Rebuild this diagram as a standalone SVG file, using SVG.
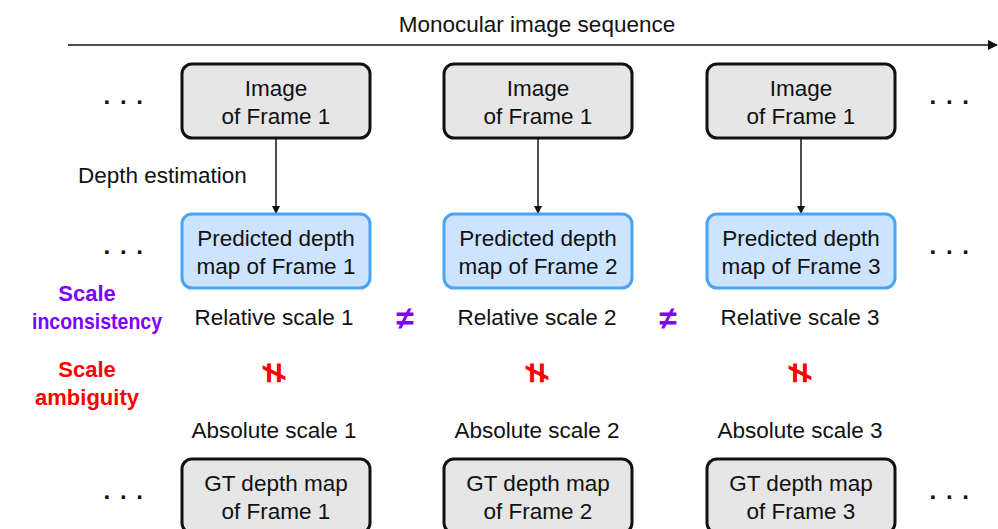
<svg xmlns="http://www.w3.org/2000/svg" width="998" height="529" viewBox="0 0 998 529">
  <style>
    text { font-family: "Liberation Sans", Arial, sans-serif; fill: #111; }
    .lbl { font-size: 22.5px; text-anchor: middle; }
    .dots { font-size: 24px; font-weight: bold; text-anchor: middle; letter-spacing: 1.5px; }
    .img { fill: #e6e6e6; stroke: #111; stroke-width: 3; }
    .pred { fill: #cce4ff; stroke: #4aa3f5; stroke-width: 3; }
    .edge { stroke: #111; stroke-width: 1.5; fill: none; }
    .incons { fill: #8000ff; font-weight: bold; }
    .ambig { fill: #ff0000; font-weight: bold; }
    .side { font-size: 22px; }
  </style>
  <defs>
    <marker id="arrow" markerWidth="8" markerHeight="8" refX="7" refY="4" orient="auto" markerUnits="userSpaceOnUse">
      <path d="M0,0 L8,4 L0,8 Z" fill="#111"/>
    </marker>
    <marker id="arrowBig" markerWidth="10" markerHeight="10" refX="9" refY="5" orient="auto" markerUnits="userSpaceOnUse">
      <path d="M0,0 L10,5 L0,10 Z" fill="#111"/>
    </marker>
  </defs>
  <rect width="998" height="529" fill="#ffffff"/>

  <!-- sequence axis -->
  <g id="sequence">
    <text class="lbl" x="537" y="32">Monocular image sequence</text>
  </g>

  <!-- connectors -->
  <g id="connectors">
    <line class="edge" x1="68" y1="45" x2="997" y2="45" marker-end="url(#arrowBig)"/>
    <line class="edge" x1="276" y1="139" x2="276" y2="213" marker-end="url(#arrow)"/>
    <line class="edge" x1="538" y1="139" x2="538" y2="213" marker-end="url(#arrow)"/>
    <line class="edge" x1="801" y1="139" x2="801" y2="213" marker-end="url(#arrow)"/>
  </g>

  <text x="78" y="183" style="font-size:22.5px">Depth estimation</text>

  <!-- ellipses -->
  <g id="ellipses">
    <text class="dots" x="124" y="104">. . .</text>
    <text class="dots" x="124" y="254">. . .</text>
    <text class="dots" x="124" y="499">. . .</text>
    <text class="dots" x="950" y="104">. . .</text>
    <text class="dots" x="950" y="254">. . .</text>
    <text class="dots" x="950" y="499">. . .</text>
  </g>

  <!-- frame images -->
  <g id="image1"><rect class="img" x="182" y="64" width="188" height="74" rx="10"/>
    <text class="lbl" x="276" y="96">Image</text><text class="lbl" x="276" y="124">of Frame 1</text></g>
  <g id="image2"><rect class="img" x="444" y="64" width="188" height="74" rx="10"/>
    <text class="lbl" x="538" y="96">Image</text><text class="lbl" x="538" y="124">of Frame 1</text></g>
  <g id="image3"><rect class="img" x="707" y="64" width="188" height="74" rx="10"/>
    <text class="lbl" x="801" y="96">Image</text><text class="lbl" x="801" y="124">of Frame 1</text></g>

  <!-- predicted depth maps -->
  <g id="pred1"><rect class="pred" x="182" y="214" width="188" height="74" rx="10"/>
    <text class="lbl" x="276" y="246">Predicted depth</text><text class="lbl" x="276" y="274">map of Frame 1</text></g>
  <g id="pred2"><rect class="pred" x="444" y="214" width="188" height="74" rx="10"/>
    <text class="lbl" x="538" y="246">Predicted depth</text><text class="lbl" x="538" y="274">map of Frame 2</text></g>
  <g id="pred3"><rect class="pred" x="707" y="214" width="188" height="74" rx="10"/>
    <text class="lbl" x="801" y="246">Predicted depth</text><text class="lbl" x="801" y="274">map of Frame 3</text></g>

  <!-- scale labels -->
  <g id="scaleLabels">
    <text class="lbl incons side" x="87" y="301">Scale</text>
    <text class="lbl incons side" x="97" y="329" textLength="130" lengthAdjust="spacingAndGlyphs">inconsistency</text>
    <text class="lbl ambig side" x="87" y="377">Scale</text>
    <text class="lbl ambig side" x="87" y="405">ambiguity</text>
  </g>

  <g id="relative">
    <text class="lbl" x="274" y="325">Relative scale 1</text>
    <text class="lbl" x="537" y="325">Relative scale 2</text>
    <text class="lbl" x="800" y="325">Relative scale 3</text>
    <text class="lbl incons" x="405" y="329" style="font-size:32px">≠</text>
    <text class="lbl incons" x="668" y="329" style="font-size:32px">≠</text>
  </g>

  <!-- rotated not-equal marks -->
  <g id="ambiguityMarks">
    <text class="lbl ambig" style="font-size:36px" transform="translate(274,373) rotate(90)" y="12">≠</text>
    <text class="lbl ambig" style="font-size:36px" transform="translate(537,373) rotate(90)" y="12">≠</text>
    <text class="lbl ambig" style="font-size:36px" transform="translate(800,373) rotate(90)" y="12">≠</text>
  </g>

  <g id="absolute">
    <text class="lbl" x="274" y="438">Absolute scale 1</text>
    <text class="lbl" x="537" y="438">Absolute scale 2</text>
    <text class="lbl" x="800" y="438">Absolute scale 3</text>
  </g>

  <!-- ground truth depth maps -->
  <g id="gt1"><rect class="img" x="182" y="459" width="188" height="74" rx="10"/>
    <text class="lbl" x="276" y="491">GT depth map</text><text class="lbl" x="276" y="519">of Frame 1</text></g>
  <g id="gt2"><rect class="img" x="444" y="459" width="188" height="74" rx="10"/>
    <text class="lbl" x="538" y="491">GT depth map</text><text class="lbl" x="538" y="519">of Frame 2</text></g>
  <g id="gt3"><rect class="img" x="707" y="459" width="188" height="74" rx="10"/>
    <text class="lbl" x="801" y="491">GT depth map</text><text class="lbl" x="801" y="519">of Frame 3</text></g>
</svg>
